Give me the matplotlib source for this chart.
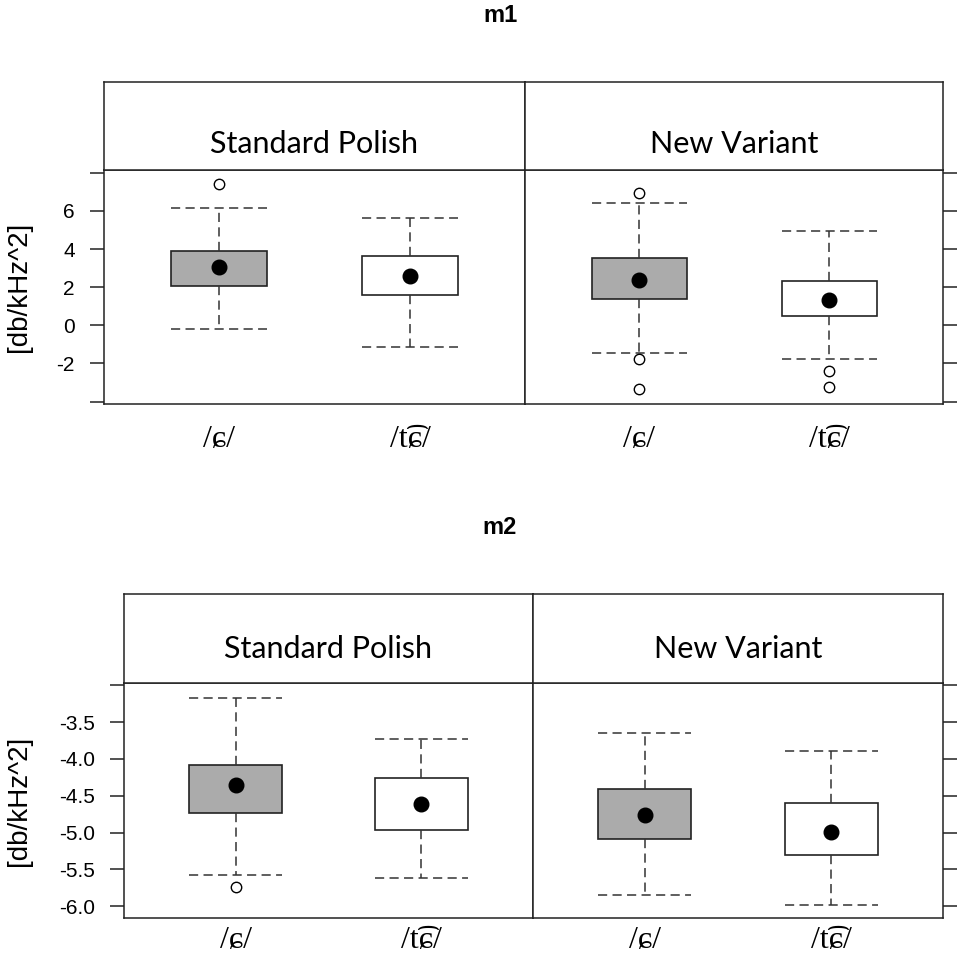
import matplotlib
matplotlib.use('Agg')
import matplotlib.pyplot as plt

W, H = 960, 968

# ---------------- data ----------------
groups = ['Standard Polish', 'New Variant']
categories = ['/ɕ/', '/t\u0361ɕ/']
box_colors = ['#ABABAB', 'white']
ylabel = '[db/kHz^2]'

# order: [group][category]
m1_whislo = [[-0.17, -1.16], [-1.45, -1.76]]
m1_q1 = [[2.05, 1.59], [1.39, 0.50]]
m1_med = [[3.04, 2.57], [2.40, 1.31]]
m1_q3 = [[3.92, 3.62], [3.53, 2.35]]
m1_whishi = [[6.15, 5.62], [6.44, 4.94]]
m1_fliers = [[[7.43], []], [[6.95, -1.78, -3.33], [-2.39, -3.25]]]
m1_ticks = [-4, -2, 0, 2, 4, 6, 8]
m1_ticklabels = ['', '-2', '0', '2', '4', '6', '']

m2_whislo = [[-5.58, -5.62], [-5.85, -5.99]]
m2_q1 = [[-4.74, -4.97], [-5.09, -5.30]]
m2_med = [[-4.35, -4.61], [-4.76, -4.99]]
m2_q3 = [[-4.08, -4.26], [-4.41, -4.60]]
m2_whishi = [[-3.17, -3.73], [-3.65, -3.89]]
m2_fliers = [[[-5.74], []], [[], []]]
m2_ticks = [-6.0, -5.5, -5.0, -4.5, -4.0, -3.5, -3.0]
m2_ticklabels = ['-6.0', '-5.5', '-5.0', '-4.5', '-4.0', '-3.5', '']

EDGE = '#222222'
WHISK = '#333333'
SANS = ['Liberation Sans', 'DejaVu Sans']
SERIF = ['Liberation Serif', 'DejaVu Serif']
STRIPF = ['Lato', 'DejaVu Sans']

fig = plt.figure(figsize=(W / 100, H / 100), dpi=100)


def rect(x0, y0, x1, y1):
    return [x0 / W, 1 - y1 / H, (x1 - x0) / W, (y1 - y0) / H]


def draw(title, title_y, whislo, q1, med, q3, whishi, fliers, ticks, ticklabels,
         ylim, xl, xm, xr, strip_top, panel_top, panel_bottom, strip_base, xpad):
    fig.text(500 / W, 1 - title_y / H, title, ha='center', va='center',
             fontsize=17, fontweight='bold', family=SANS)
    fig.text(18.5 / W, 1 - (panel_top + panel_bottom) / 2 / H, ylabel,
             rotation=90, ha='center', va='center', fontsize=20, family=SANS)
    edges = [(xl, xm), (xm, xr)]
    for g in range(2):
        a, b = edges[g]
        ax = fig.add_axes(rect(a, panel_top, b, panel_bottom))
        stats = []
        for c in range(2):
            stats.append(dict(whislo=whislo[g][c], q1=q1[g][c], med=med[g][c],
                              q3=q3[g][c], whishi=whishi[g][c], fliers=fliers[g][c]))
        bp = ax.bxp(stats, positions=[1, 2], widths=0.5, capwidths=0.5,
                    patch_artist=True, showfliers=True,
                    boxprops=dict(edgecolor=EDGE, linewidth=1.2),
                    whiskerprops=dict(color=WHISK, linewidth=1.1, linestyle=(0, (6, 3.5))),
                    capprops=dict(color=WHISK, linewidth=1.1, linestyle=(0, (6, 3.5))),
                    medianprops=dict(linewidth=0),
                    flierprops=dict(marker='o', markerfacecolor='white',
                                    markeredgecolor='black', markersize=7.5,
                                    markeredgewidth=1.0, linestyle='none'))
        for patch, col in zip(bp['boxes'], box_colors):
            patch.set_facecolor(col)
        ax.plot([1, 2], med[g], 'o', color='black', markersize=10.5, zorder=5)
        ax.set_xlim(0.4, 2.6)
        ax.set_ylim(*ylim)
        ax.set_xticks([1, 2])
        ax.set_xticklabels(categories, family=SERIF, fontsize=23)
        ax.tick_params(axis='x', length=0, pad=xpad)
        ax.set_yticks(ticks)
        if g == 0:
            ax.set_yticklabels(ticklabels, family=SANS, fontsize=15)
            ax.tick_params(axis='y', direction='out', length=10, width=1.1,
                           color=EDGE, pad=11, left=True, right=False)
        else:
            ax.yaxis.tick_right()
            ax.tick_params(axis='y', direction='out', length=10, width=1.1,
                           color=EDGE, labelright=False, left=False, right=True)
        for s in ax.spines.values():
            s.set_linewidth(1.1)
            s.set_color(EDGE)
        # strip
        sax = fig.add_axes(rect(a, strip_top, b, panel_top))
        sax.set_xticks([])
        sax.set_yticks([])
        for s in sax.spines.values():
            s.set_linewidth(1.1)
            s.set_color(EDGE)
        frac = (panel_top - strip_base) / (panel_top - strip_top)
        sax.text(0.5, frac, groups[g], ha='center', va='baseline',
                 fontsize=22, family=STRIPF, transform=sax.transAxes)


draw('m1', 15, m1_whislo, m1_q1, m1_med, m1_q3, m1_whishi, m1_fliers,
     m1_ticks, m1_ticklabels, (-4.13, 8.15), 104, 525, 943, 82, 170, 404, 152.7, 15)
draw('m2', 528, m2_whislo, m2_q1, m2_med, m2_q3, m2_whishi, m2_fliers,
     m2_ticks, m2_ticklabels, (-6.16, -2.97), 124, 533, 943, 594, 683, 918, 658, 6)

fig.savefig('out.png', dpi=100)
